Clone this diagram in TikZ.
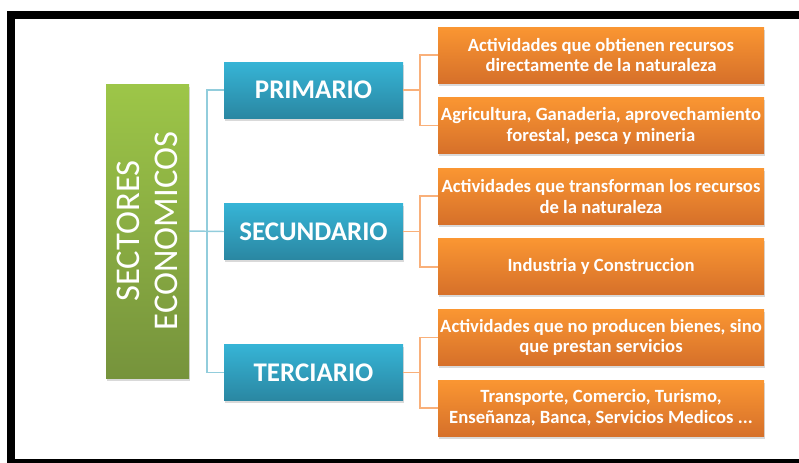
\documentclass[tikz,border=0pt]{standalone}
\usepackage{fontspec}
\setmainfont{Carlito}
\usepackage{tikz}
\usetikzlibrary{
    shadows,
    positioning,
    calc
}
\definecolor{greentop}{HTML}{9DC648}
\definecolor{greenbot}{HTML}{76933C}
\definecolor{bluetop}{HTML}{36B4D6}
\definecolor{bluebot}{HTML}{2A87A2}
\definecolor{orangetop}{HTML}{FA9632}
\definecolor{orangebot}{HTML}{D6702A}
\definecolor{blueline}{HTML}{92CDDC}
\definecolor{orangeline}{HTML}{F9B07A}
\tikzset{
    sector/.style = {
        rectangle,
        top color=greentop,
        bottom color=greenbot,
        minimum width=62.25pt,
        minimum height=220.5pt,
        inner sep=0pt,
        outer sep=0pt,
        drop shadow={shadow xshift=1pt, shadow yshift=-2pt, opacity=.3}
    },
    sectortext/.style = {
        rotate=90,
        text=white,
        align=center,
        inner sep=0pt,
        font=\fontsize{26}{28.5}\selectfont
    },
    category/.style = {
        rectangle,
        top color=bluetop,
        bottom color=bluebot,
        minimum width=134.25pt,
        minimum height=42pt,
        inner sep=0pt,
        outer sep=0pt,
        text=white,
        font=\fontsize{20.2}{23}\selectfont\bfseries,
        drop shadow={shadow xshift=1pt, shadow yshift=-2pt, opacity=.3}
    },
    detail/.style = {
        rectangle,
        top color=orangetop,
        bottom color=orangebot,
        minimum width=244.5pt,
        minimum height=42pt,
        inner sep=0pt,
        outer sep=0pt,
        text=white,
        align=center,
        font=\fontsize{14}{15.5}\selectfont\bfseries,
        drop shadow={shadow xshift=1pt, shadow yshift=-2pt, opacity=.3}
    },
    bluelink/.style = {
        draw=blueline,
        line width=1.1pt
    },
    orangelink/.style = {
        draw=orangeline,
        line width=1.1pt
    }
}

\begin{document}
\begin{tikzpicture}[x=0.75pt, y=-0.75pt]
\useasboundingbox (0,0) rectangle (799,462);
% frame
\fill[black] (7,11) rectangle (810,19);
\fill[black] (7,11) rectangle (15,470);
\fill[black] (7,459) rectangle (810,470);

\node[sector] (sectores) at (147.5,231) {};
\node[sectortext] (sectorestext) at (sectores.center) {SECTORES\\ECONOMICOS};

\node[category] (primario)   at (313.5,90)    {PRIMARIO};
\node[category] (secundario) at (313.5,231.5) {SECUNDARIO};
\node[category] (terciario)  at (313.5,372.5) {TERCIARIO};

\node[detail] (obtienen)    at (601,55)    {Actividades que obtienen recursos\\directamente de la naturaleza};
\node[detail] (agricultura) at (601,125.6) {Agricultura, Ganaderia, aprovechamiento\\forestal, pesca y mineria};
\node[detail] (transforman) at (601,196.2) {Actividades que transforman los recursos\\de la naturaleza};
\node[detail] (industria)   at (601,266.8) {Industria y Construccion};
\node[detail] (servicios)   at (601,337.4) {Actividades que no producen bienes, sino\\que prestan servicios};
\node[detail] (transporte)  at (601,408)   {Transporte, Comercio, Turismo,\\Enseñanza, Banca, Servicios Medicos ...};

\coordinate (sjoin) at (207,231.5);
\coordinate (pjoin) at (420,90);
\coordinate (secjoin) at (420,231.5);
\coordinate (tjoin) at (420,372.5);

\draw[bluelink] (sectores.east) -- (secundario.west);
\draw[bluelink] (primario.west) -| (sjoin) |- (terciario.west);

\draw[orangelink] (primario.east) -- (pjoin);
\draw[orangelink] (obtienen.west) -| (pjoin) |- (agricultura.west);
\draw[orangelink] (secundario.east) -- (secjoin);
\draw[orangelink] (transforman.west) -| (secjoin) |- (industria.west);
\draw[orangelink] (terciario.east) -- (tjoin);
\draw[orangelink] (servicios.west) -| (tjoin) |- (transporte.west);
\end{tikzpicture}
\end{document}
